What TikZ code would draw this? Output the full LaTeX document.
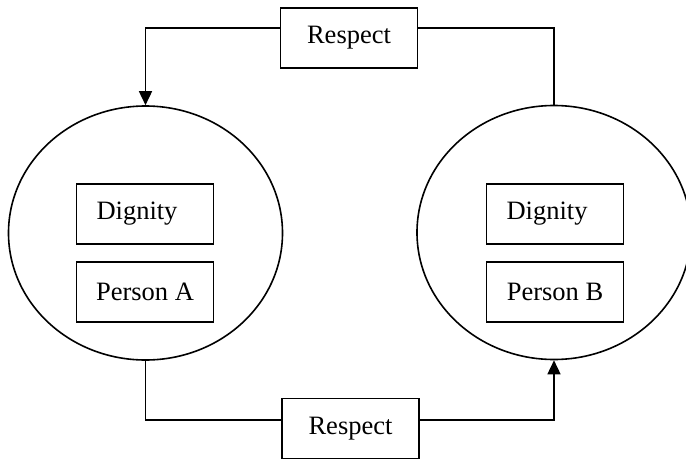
\documentclass[tikz,border=0pt]{standalone}
\usepackage{fontspec}
\setmainfont{Liberation Serif}
\usetikzlibrary{shapes.geometric,arrows.meta}
\begin{document}
\begin{tikzpicture}[x=1pt,y=-1pt,
  line width=1.6pt,
  box/.style={draw, rectangle, minimum width=137pt, minimum height=60pt, inner sep=0pt, font=\fontsize{26.5}{30}\selectfont},
  person/.style={draw, ellipse, minimum width=274pt, minimum height=254pt, inner sep=0pt},
  arr/.style={-{Triangle[width=13pt,length=14pt]}}]
\clip (0,0) rectangle (686,461);
\node[person] (ca) at (145.5,233) {};
\node[person] (cb) at (554,232.5) {};
\node[box] (da) at (145,214) {Dignity\hspace*{16pt}};
\node[box] (pa) at (145,292) {Person A};
\node[box] (db) at (555,214) {Dignity\hspace*{16pt}};
\node[box] (pb) at (555,292) {Person B};
\node[box] (rt) at (349,38) {Respect};
\node[box] (rb) at (350.5,428.5) {Respect};
\draw[arr] ([yshift=10pt]rt.west) -| (ca.north);
\draw ([yshift=10pt]rt.east) -| (cb.north);
\draw (ca.south) |- ([yshift=8.5pt]rb.west);
\draw[arr] ([yshift=8.5pt]rb.east) -| (cb.south);
\end{tikzpicture}
\end{document}
